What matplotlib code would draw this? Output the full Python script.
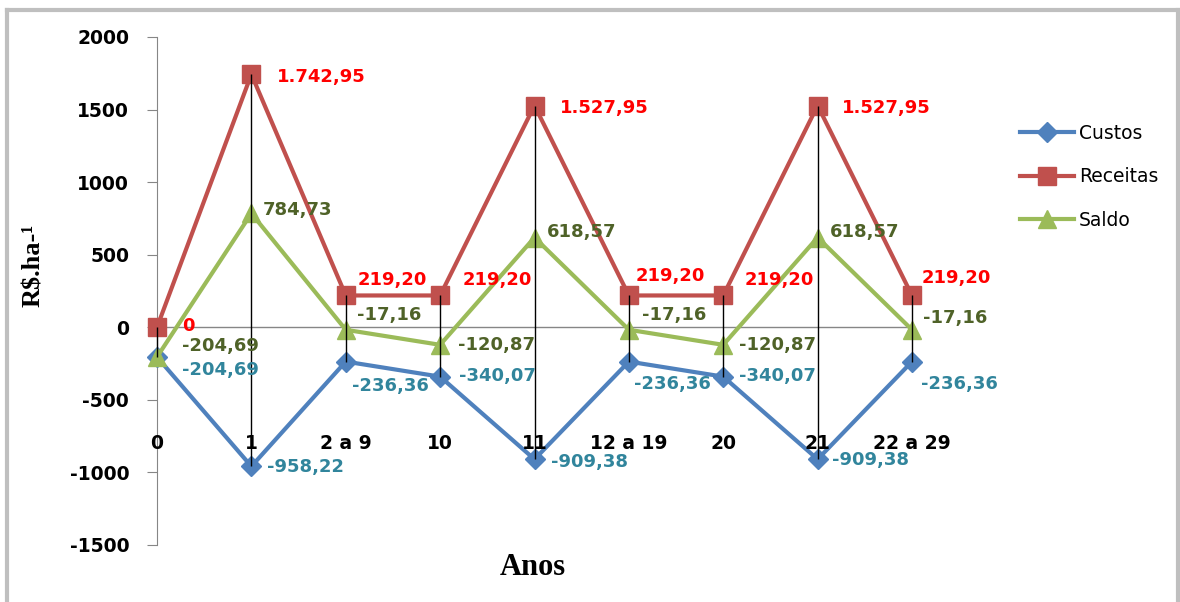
import numpy as np
import matplotlib
matplotlib.use("Agg")
import matplotlib.pyplot as plt
from matplotlib.lines import Line2D

plt.rcParams["axes.unicode_minus"] = False

# dados do fluxo de caixa (R$/ha)
anos = ["0", "1", "2 a 9", "10", "11", "12 a 19", "20", "21", "22 a 29"]
custos = [-204.69, -958.22, -236.36, -340.07, -909.38, -236.36, -340.07, -909.38, -236.36]
receitas = [0, 1742.95, 219.20, 219.20, 1527.95, 219.20, 219.20, 1527.95, 219.20]
saldo = [-204.69, 784.73, -17.16, -120.87, 618.57, -17.16, -120.87, 618.57, -17.16]

# deslocamento dos rótulos (pixels, y para baixo)
off_receitas = [(25, -1), (26, 3), (12, -15), (22, -15), (25, 2), (7, -19), (21, -15), (24, 2), (10, -17)]
off_saldo = [(25, -11), (11, -3), (11, -15), (18, 0), (12, -6), (13, -15), (16, 0), (12, -6), (11, -12)]
off_custos = [(25, 13), (16, 1), (6, 24), (19, -1), (17, 3), (5, 22), (16, -1), (14, 1), (9, 22)]


def fmt_br(v):
    if v == 0:
        return "0"
    s = "{:,.2f}".format(v)
    return s.replace(",", "X").replace(".", ",").replace("X", ".")


W, H = 1180, 602
fig = plt.figure(figsize=(W / 100, H / 100), dpi=100)
fig.patch.set_facecolor("white")

# moldura do gráfico
frame_c = "#BFBFBF"
fig.add_artist(Line2D([7 / W, 1178 / W], [1 - 10 / H, 1 - 10 / H], color=frame_c, lw=3, transform=fig.transFigure))
fig.add_artist(Line2D([7 / W, 7 / W], [0, 1 - 10 / H], color=frame_c, lw=3, transform=fig.transFigure))
fig.add_artist(Line2D([1178 / W, 1178 / W], [0, 1 - 10 / H], color=frame_c, lw=3, transform=fig.transFigure))

ax = fig.add_axes([157 / W, 1 - 545 / H, 755 / W, 508 / H])
x = np.arange(len(anos))

ax.plot(x, custos, color="#4F81BD", lw=3, marker="D", ms=10, label="Custos", zorder=3, clip_on=False)
ax.plot(x, receitas, color="#C0504D", lw=3, marker="s", ms=13, label="Receitas", zorder=3, clip_on=False)
ax.plot(x, saldo, color="#9BBB59", lw=3, marker="^", ms=13, label="Saldo", zorder=3, clip_on=False)

# linhas de máximo e mínimo
todos = np.array([custos, receitas, saldo])
ax.vlines(x, todos.min(axis=0), todos.max(axis=0), color="black", lw=1, zorder=4, clip_on=False)

ax.axhline(0, color="#868686", lw=1, zorder=1)

ax.set_xlim(0, len(anos) - 1)
ax.set_ylim(-1500, 2000)
ax.set_yticks(np.arange(-1500, 2001, 500))
ax.set_xticks([])
for sp in ["top", "right", "bottom"]:
    ax.spines[sp].set_visible(False)
ax.spines["left"].set_color("#868686")
ax.tick_params(axis="y", length=7, color="#868686", pad=13, labelsize=13.5)
for t in ax.get_yticklabels():
    t.set_fontweight("bold")

for i, lab in enumerate(anos):
    ax.text(i, -800, lab, ha="center", va="center", fontsize=13.5, fontweight="bold")

for vals, offs, col in [(receitas, off_receitas, "#FF0000"),
                        (saldo, off_saldo, "#4F6228"),
                        (custos, off_custos, "#31859C")]:
    for i, v in enumerate(vals):
        dx, dy = offs[i]
        ax.annotate(fmt_br(v), (i, v), xytext=(dx * 0.72, -dy * 0.72), textcoords="offset points",
                    ha="left", va="center", fontsize=13, fontweight="bold", color=col,
                    annotation_clip=False, zorder=5)

ax.set_xlabel("Anos", family="Liberation Serif", fontweight="bold", fontsize=22)
ax.xaxis.set_label_coords((533 - 157) / 755, -(553 - 545) / 508)
ax.set_ylabel("R\\$.ha-¹", family="Liberation Serif", fontweight="bold", fontsize=19)
ax.yaxis.set_label_coords((45 - 157) / 755, (545 - 265) / 508)

ax.legend(loc="upper left", bbox_to_anchor=(1020 / W, 1 - 124 / H), bbox_transform=fig.transFigure,
          frameon=False, fontsize=13.5, handlelength=2.9, handletextpad=0.25, labelspacing=1.3,
          borderpad=0, borderaxespad=0)

fig.savefig("out.png", dpi=100)
